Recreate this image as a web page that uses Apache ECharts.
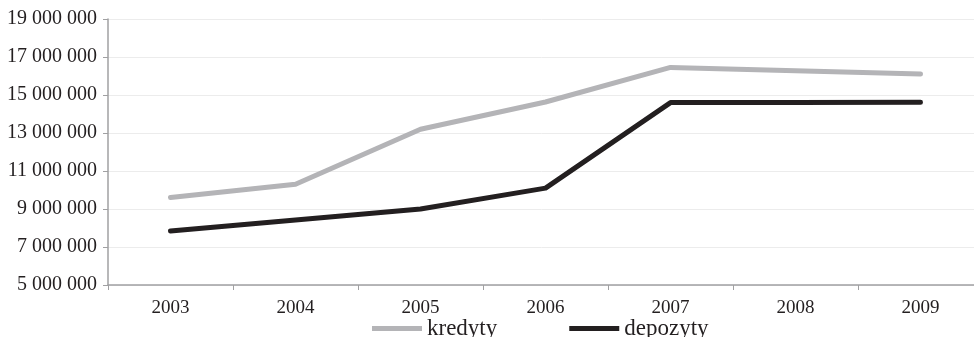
<!DOCTYPE html>
<html>
<head>
<meta charset="utf-8">
<script src="https://cdn.jsdelivr.net/npm/echarts@6/dist/echarts.min.js"></script>
<style>
  html, body { margin: 0; padding: 0; background: #fff; overflow: hidden; }
  #chart { width: 974px; height: 337px; }
</style>
</head>
<body>
<div id="chart"></div>
<script>
// Years on the category axis
const years = ['2003', '2004', '2005', '2006', '2007', '2008', '2009'];
// Loans and deposits, in currency units
const kredyty = [9600000, 10300000, 13200000, 14630000, 16450000, 16280000, 16100000];
const depozyty = [7840000, 8420000, 9000000, 10100000, 14600000, 14600000, 14620000];

const fontFamily = '"Liberation Serif", "Times New Roman", serif';

function fmt(v) {
  return String(v).replace(/\B(?=(\d{3})+(?!\d))/g, ' ');
}

const chart = echarts.init(document.getElementById('chart'), null, { renderer: 'canvas' });
chart.setOption({
  animation: false,
  backgroundColor: '#ffffff',
  // plot area runs a little past the right edge of the canvas
  grid: { left: 108, width: 875, top: 19, height: 266, containLabel: false, outerBoundsMode: 'none' },
  legend: {
    top: 317,
    left: 372,
    padding: 0,
    itemWidth: 50,
    itemHeight: 22,
    itemGap: 72,
    textStyle: { fontFamily: fontFamily, fontSize: 23, color: '#231f20' },
    data: [
      { name: 'kredyty', icon: 'path://M0,0L50,0L50,5L0,5Z' },
      { name: 'depozyty', icon: 'path://M0,0L50,0L50,5L0,5Z' }
    ]
  },
  xAxis: {
    type: 'category',
    data: years,
    boundaryGap: true,
    axisLine: { lineStyle: { color: '#a0a0a2', width: 1.5 } },
    axisTick: { show: true, length: 5, inside: false, lineStyle: { color: '#a0a0a2', width: 1 } },
    axisLabel: { fontFamily: fontFamily, fontSize: 19, color: '#231f20', margin: 14 },
    splitLine: { show: false }
  },
  yAxis: {
    type: 'value',
    min: 5000000,
    max: 19000000,
    interval: 2000000,
    axisLine: { show: true, lineStyle: { color: '#a0a0a2', width: 1.5 } },
    axisTick: { show: true, length: 5, lineStyle: { color: '#a0a0a2', width: 1 } },
    axisLabel: { fontFamily: fontFamily, fontSize: 20, color: '#231f20', margin: 11, formatter: fmt },
    splitLine: { show: true, lineStyle: { color: '#ececec', width: 1 } }
  },
  series: [
    {
      name: 'kredyty',
      type: 'line',
      data: kredyty,
      showSymbol: false,
      symbol: 'none',
      itemStyle: { color: '#b4b4b7' },
      lineStyle: { color: '#b4b4b7', width: 5, cap: 'round', join: 'round' }
    },
    {
      name: 'depozyty',
      type: 'line',
      data: depozyty,
      showSymbol: false,
      symbol: 'none',
      itemStyle: { color: '#231f20' },
      lineStyle: { color: '#231f20', width: 5, cap: 'round', join: 'round' }
    }
  ]
});
</script>
</body>
</html>
